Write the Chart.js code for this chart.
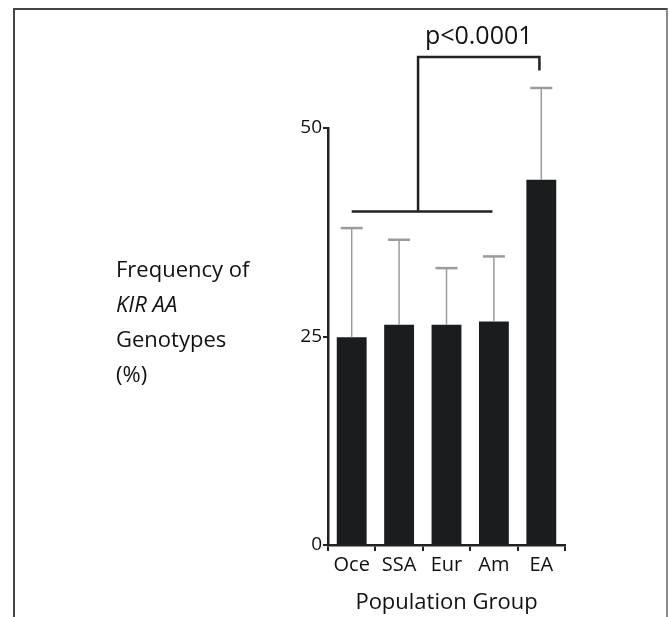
<!DOCTYPE html>
<html>
<head>
<meta charset="utf-8">
<script src="https://cdn.jsdelivr.net/npm/chart.js@4.4.0/dist/chart.umd.min.js"></script>
<style>
  body { margin: 0; background: #fff; }
  #frame {
    position: absolute; left: 13px; top: 8px; width: 651px; height: 620px;
    border-left: 2px solid #444; border-top: 2px solid #444; border-right: 2px solid #8a8a8a;
  }
  #kirChart { position: absolute; left: 0; top: 0; }
</style>
</head>
<body>
<div id="frame"></div>
<canvas id="kirChart" width="669" height="617"></canvas>
<script>
// data
const groups = ["Oce", "SSA", "Eur", "Am", "EA"];
const freqMeans = [24.9, 26.4, 26.4, 26.8, 43.8];
const freqUpper = [38.0, 36.6, 33.2, 34.6, 54.8];
const yTicks = [0, 25, 50];
const yTitleLines = ["Frequency of", "KIR AA", "Genotypes", "(%)"];
const xTitle = "Population Group";
const pLabel = "p<0.0001";

const FONT = "'Open Sans', sans-serif";
const INK = "#111";

// error bars (upper only), drawn through the scales
const errorBars = {
  id: "errorBars",
  afterDatasetsDraw(chart) {
    const ctx = chart.ctx;
    const x = chart.scales.x, y = chart.scales.y;
    ctx.save();
    ctx.strokeStyle = "#9b9b9b";
    freqUpper.forEach((up, i) => {
      const px = x.getPixelForValue(i);
      const top = y.getPixelForValue(up);
      const base = y.getPixelForValue(freqMeans[i]);
      ctx.lineWidth = 1.5;
      ctx.beginPath();
      ctx.moveTo(px, base);
      ctx.lineTo(px, top);
      ctx.stroke();
      ctx.lineWidth = 2.5;
      ctx.beginPath();
      ctx.moveTo(px - 11, top);
      ctx.lineTo(px + 11, top);
      ctx.stroke();
    });
    ctx.restore();
  }
};

// significance bracket + y title text
const annotations = {
  id: "annotations",
  afterDraw(chart) {
    const ctx = chart.ctx;
    const x = chart.scales.x, y = chart.scales.y;
    ctx.save();
    ctx.strokeStyle = "#222";
    ctx.lineWidth = 2.5;
    const lowY = y.getPixelForValue(40);
    const highY = y.getPixelForValue(58.5);
    const eaY = y.getPixelForValue(56.9);
    const joinX = x.getPixelForValue(1.4);
    const eaX = x.getPixelForValue(3.96);
    ctx.beginPath();
    ctx.moveTo(x.getPixelForValue(0), lowY);
    ctx.lineTo(x.getPixelForValue(2.97), lowY);
    ctx.stroke();
    ctx.beginPath();
    ctx.moveTo(joinX, lowY);
    ctx.lineTo(joinX, highY);
    ctx.lineTo(eaX, highY);
    ctx.lineTo(eaX, eaY);
    ctx.stroke();

    ctx.fillStyle = INK;
    ctx.font = "25px " + FONT;
    ctx.textAlign = "center";
    ctx.textBaseline = "alphabetic";
    ctx.fillText(pLabel, (joinX + eaX) / 2, highY - 13);

    ctx.textAlign = "left";
    ctx.textBaseline = "middle";
    yTitleLines.forEach((line, i) => {
      ctx.font = (i === 1 ? "italic " : "") + "22px " + FONT;
      ctx.fillText(line, 116, 271 + i * 35);
    });
    ctx.restore();
  }
};

new Chart(document.getElementById("kirChart"), {
  type: "bar",
  data: {
    labels: groups,
    datasets: [{
      data: freqMeans,
      backgroundColor: "#1b1c1d",
      barPercentage: 0.9,
      categoryPercentage: 0.7
    }]
  },
  options: {
    responsive: false,
    animation: false,
    layout: { padding: { left: 0, right: 104, top: 128, bottom: 0 } },
    plugins: { legend: { display: false }, tooltip: { enabled: false } },
    scales: {
      x: {
        grid: { drawOnChartArea: false, tickLength: 6, color: "#222", lineWidth: 2 },
        border: { color: "#222", width: 2.5 },
        ticks: { color: INK, font: { family: FONT, size: 20 }, padding: 2 },
        title: { display: true, text: xTitle, color: INK, font: { family: FONT, size: 22 }, padding: { bottom: 1 } },
        afterFit(scale) { scale.height = 72; }
      },
      y: {
        min: 0,
        max: 50,
        grid: { drawOnChartArea: false, tickLength: 5, color: "#222", lineWidth: 2 },
        border: { color: "#222", width: 2.5 },
        ticks: { color: INK, font: { family: FONT, size: 19 }, padding: 1 },
        afterBuildTicks(scale) { scale.ticks = yTicks.map(v => ({ value: v })); },
        afterFit(scale) { scale.width = 328; }
      }
    }
  },
  plugins: [errorBars, annotations]
});
</script>
</body>
</html>
